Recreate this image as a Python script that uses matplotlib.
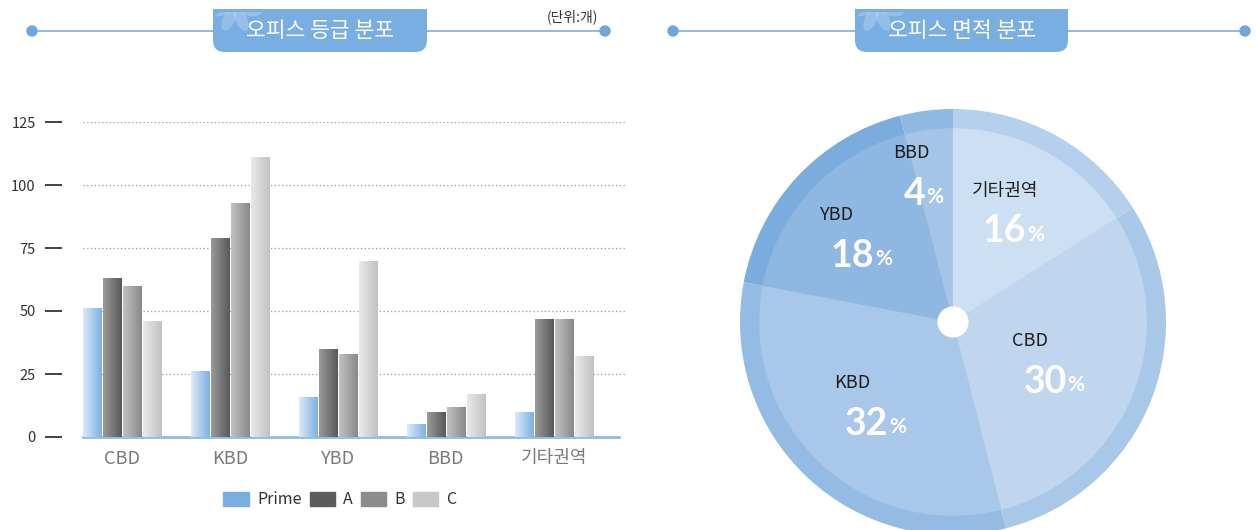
import numpy as np
import matplotlib
matplotlib.use("Agg")
import matplotlib.pyplot as plt
from matplotlib.colors import LinearSegmentedColormap
from matplotlib.patches import Circle, FancyBboxPatch, Rectangle, Ellipse, Patch

# Data
regions = ["CBD", "KBD", "YBD", "BBD", "기타권역"]
grades = ["Prime", "A", "B", "C"]
prime = [51, 26, 16, 5, 10]
grade_a = [63, 79, 35, 10, 47]
grade_b = [60, 93, 33, 12, 47]
grade_c = [46, 111, 70, 17, 32]
yticks = [0, 25, 50, 75, 100, 125]

pie_labels = ["기타권역", "CBD", "KBD", "YBD", "BBD"]
pie_share = [16, 30, 32, 18, 4]

# Styling
KFONT = ["Liberation Sans Narrow", "Noto Sans CJK KR", "DejaVu Sans"]
KR = ["Noto Sans CJK KR", "DejaVu Sans"]
NUM = ["Lato", "DejaVu Sans"]
plt.rcParams["font.family"] = KFONT

bar_grad = [("#dbe9f7", "#7db0e1"), ("#9a9a9a", "#585858"),
            ("#c2c2c2", "#888888"), ("#e8e8e8", "#c2c2c2")]
legend_cols = ["#7aaee0", "#5c5c5c", "#8c8c8c", "#c8c8c8"]
ring_cols = ["#b4d0ec", "#a9c8e8", "#94bbe3", "#7aacdd", "#8fb8e2"]
inner_cols = ["#cde0f3", "#bfd6ee", "#a9c7e8", "#8eb7e1", "#a6c4e6"]
label_dist = [0.59, 0.51, 0.53, 0.59, 0.70]
HEAD = "#79aee2"
LINE = "#8fbbe7"

W, H = 1256, 530
fig = plt.figure(figsize=(W / 100, H / 100), dpi=100)

# overlay in pixel coordinates for the headers
ax0 = fig.add_axes([0, 0, 1, 1])
ax0.set_xlim(0, W)
ax0.set_ylim(H, 0)
ax0.axis("off")
ax0.patch.set_alpha(0)


def header(x0, x1, tx0, tx1, title):
    ax0.plot([x0, x1], [31, 31], color=LINE, lw=1.4, zorder=1)
    for x in (x0, x1):
        ax0.add_patch(Circle((x, 31), 5, color="#6fa6dc", zorder=2))
    tab = FancyBboxPatch((tx0, 12), tx1 - tx0, 40, boxstyle="round,pad=0,rounding_size=12",
                         fc=HEAD, ec="none", zorder=3)
    ax0.add_patch(tab)
    top = Rectangle((tx0, 9), tx1 - tx0, 20, fc=HEAD, ec="none", zorder=3)
    ax0.add_patch(top)
    # faint flower petals at the tab corner
    fx, fy = tx0 + 22, 6
    for ang in (15, 65, 115, 165, 215):
        t = np.deg2rad(ang)
        e = Ellipse((fx + 14 * np.cos(t), fy + 14 * np.sin(t)), 12, 26, angle=ang + 90,
                    fc="#b6d4f2", ec="none", alpha=0.45, zorder=4)
        e.set_clip_path(tab)
        ax0.add_patch(e)
    ax0.text((tx0 + tx1) / 2, 31, title, color="white", fontsize=15.5, ha="center",
             va="center", family=KR, zorder=5)


header(32, 605, 213, 427, "오피스 등급 분포")
header(673, 1245, 855, 1068, "오피스 면적 분포")
ax0.text(572, 17, "(단위:개)", fontsize=10, ha="center", va="center", color="#333333", family=KR)

# Bar chart
ax = fig.add_axes([83 / W, (H - 437) / H, 542 / W, 315 / H])
x = np.arange(len(regions))
step, width = 0.185, 0.17
series = [prime, grade_a, grade_b, grade_c]
for j, vals in enumerate(series):
    cmap = LinearSegmentedColormap.from_list("g%d" % j, bar_grad[j])
    grad = np.linspace(0, 1, 64).reshape(1, -1)
    bars = ax.bar(x + (j - 1.5) * step, vals, width, color=legend_cols[j], zorder=2)
    for b in bars:
        bx, bw, bh = b.get_x(), b.get_width(), b.get_height()
        im = ax.imshow(grad, cmap=cmap, extent=(bx, bx + bw, 0, bh), aspect="auto",
                       zorder=3, interpolation="bilinear")
        im.set_clip_path(b)

ax.set_xlim(-0.36, 4.66)
ax.set_ylim(0, 125)
ax.set_yticks(yticks)
for v in yticks[1:]:
    ax.axhline(v, color="#9a9a9a", lw=0.9, ls=(0, (1, 2)), zorder=1)
ax.set_xticks(x)
ax.set_xticklabels(regions, fontsize=13, color="#7a7a7a")
ax.tick_params(axis="x", length=0, pad=9)
ax.tick_params(axis="y", length=12, width=1.3, color="#333333", pad=7,
               labelsize=10.5, labelcolor="#333333")
for s in ("top", "right"):
    ax.spines[s].set_visible(False)
ax.spines["left"].set_position(("outward", 15))
ax.spines["left"].set_visible(False)
ax.spines["bottom"].set_color(LINE)
ax.spines["bottom"].set_linewidth(2)
ax.spines["bottom"].set_bounds(-0.36, 4.6)
ax.patch.set_alpha(0)

handles = [Patch(color=c) for c in legend_cols]
fig.legend(handles, grades, loc="center", bbox_to_anchor=(340 / W, 30 / H),
           ncol=4, frameon=False, fontsize=11.5, handlelength=1.6, handleheight=0.9,
           handletextpad=0.5, columnspacing=0.5, labelcolor="#333333")

# Pie chart
R = 213
cx, cy = 953, 322
axp = fig.add_axes([(cx - R) / W, (H - cy - R) / H, 2 * R / W, 2 * R / H])
wedges, _ = axp.pie(pie_share, colors=ring_cols, startangle=90, counterclock=False,
                    radius=1.0, wedgeprops=dict(lw=0))
axp.pie(pie_share, colors=inner_cols, startangle=90, counterclock=False,
        radius=0.91, wedgeprops=dict(lw=0))
axp.add_patch(Circle((0, 0), 0.07, color="white", zorder=5))
for w, name, pct, d in zip(wedges, pie_labels, pie_share, label_dist):
    th = np.deg2rad((w.theta1 + w.theta2) / 2)
    px, py = d * np.cos(th), d * np.sin(th)
    axp.annotate(name, (px, py), xytext=(-30, 15), textcoords="offset points",
                 ha="left", va="center", fontsize=13, color="#1e1e1e", family=KR)
    num = axp.annotate(str(pct), (px, py), xytext=(-22, -22), textcoords="offset points",
                       ha="left", va="baseline", fontsize=27, color="white",
                       fontweight="bold", family=NUM)
    axp.annotate("%", (1, 0), xycoords=num, xytext=(0.5, 2.5), textcoords="offset points",
                 ha="left", va="bottom", fontsize=15, color="white",
                 fontweight="bold", family=NUM)
axp.set_xlim(-1, 1)
axp.set_ylim(-1, 1)
axp.set_aspect("equal")
axp.axis("off")

fig.savefig("out.png", dpi=100)
